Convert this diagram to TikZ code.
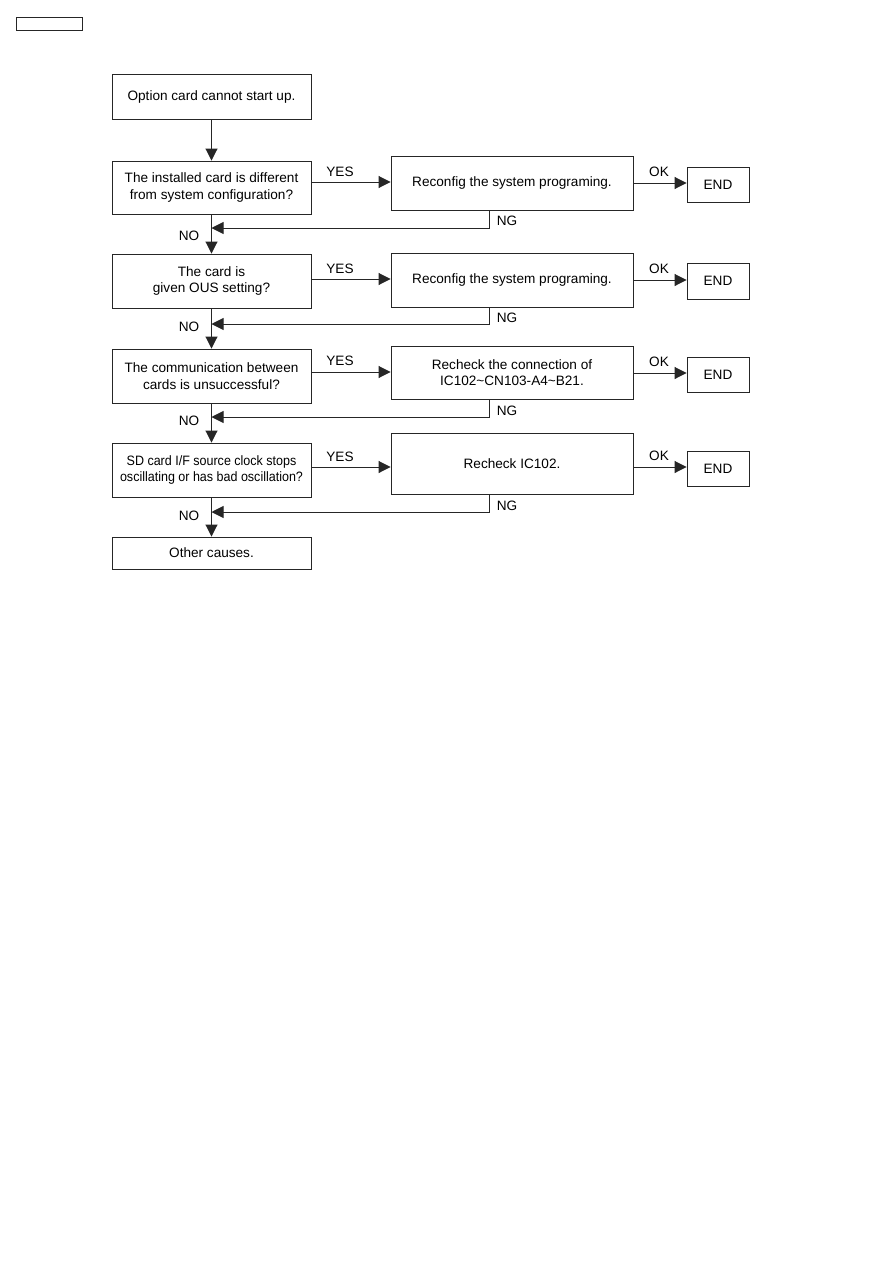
\documentclass[tikz,border=0pt]{standalone}
\usepackage{fontspec}
\setmainfont{Liberation Sans}
\newfontfamily\condfont[FakeStretch=0.92]{Liberation Sans}
\usetikzlibrary{arrows.meta}
\begin{document}
\begin{tikzpicture}[x=1pt,y=-1pt,
  every node/.style={font=\fontsize{13.6}{16.5}\selectfont},
  box/.style={draw=black!85,line width=0.9pt,inner sep=0pt,align=center,fill=white},
  lbl/.style={inner sep=0pt},
  arr/.style={draw=black!85,line width=0.9pt,-{Triangle[length=12pt,width=12pt]}},
  ln/.style={draw=black!85,line width=0.9pt}]
\useasboundingbox (0,0) rectangle (893,1263);
\fill[white] (0,0) rectangle (893,1263);
% top-left small box
\node[box,minimum width=66pt,minimum height=13pt] (tag) at (49,23.5) {};
% left column
\node[box,minimum width=199pt,minimum height=45pt] (b1) at (211.5,96.5) {Option card cannot start up.};
\node[box,minimum width=199pt,minimum height=53pt] (b2) at (211.5,187.5) {The installed card is different\\from system configuration?};
\node[box,minimum width=199pt,minimum height=54pt] (b3) at (211.5,281) {The card is\\given OUS setting?};
\node[box,minimum width=199pt,minimum height=54pt] (b4) at (211.5,376) {The communication between\\cards is unsuccessful?};
\node[box,minimum width=199pt,minimum height=54pt,font=\condfont\fontsize{13.6}{16.5}\selectfont] (b5) at (211.5,470) {SD card I/F source clock stops\\oscillating or has bad oscillation?};
\node[box,minimum width=199pt,minimum height=32pt] (b6) at (211.5,553) {Other causes.};
% middle column
\node[box,minimum width=242pt,minimum height=54pt] (r1) at (512,183) {Reconfig the system programing.};
\node[box,minimum width=242pt,minimum height=54pt] (r2) at (512,280) {Reconfig the system programing.};
\node[box,minimum width=242pt,minimum height=53pt] (r3) at (512,372.5) {Recheck the connection of\\IC102\textasciitilde CN103-A4\textasciitilde B21.};
\node[box,minimum width=242pt,minimum height=61pt] (r4) at (512,463.5) {Recheck IC102.};
% END boxes
\node[box,minimum width=62pt,minimum height=35pt] (e1) at (718,184.5) {END};
\node[box,minimum width=62pt,minimum height=36pt] (e2) at (718,281) {END};
\node[box,minimum width=62pt,minimum height=35pt] (e3) at (718,374.5) {END};
\node[box,minimum width=62pt,minimum height=35pt] (e4) at (718,468.5) {END};
% junction points on the vertical line
\coordinate (j1) at (211.5,228);
\coordinate (j2) at (211.5,324);
\coordinate (j3) at (211.5,417);
\coordinate (j4) at (211.5,512);
% vertical arrows
\draw[arr] (b1.south) -- (b2.north);
\draw[arr] (b2.south) -- (b3.north);
\draw[arr] (b3.south) -- (b4.north);
\draw[arr] (b4.south) -- (b5.north);
\draw[arr] (b5.south) -- (b6.north);
% YES arrows
\draw[arr] (b2.east |- 0,182) -- (r1.west |- 0,182);
\draw[arr] (b3.east |- 0,279) -- (r2.west |- 0,279);
\draw[arr] (b4.east |- 0,372) -- (r3.west |- 0,372);
\draw[arr] (b5.east |- 0,467) -- (r4.west |- 0,467);
% OK arrows
\draw[arr] (r1.east |- 0,183) -- (e1.west |- 0,183);
\draw[arr] (r2.east |- 0,280) -- (e2.west |- 0,280);
\draw[arr] (r3.east |- 0,373) -- (e3.west |- 0,373);
\draw[arr] (r4.east |- 0,467) -- (e4.west |- 0,467);
% NG returns
\draw[arr] (r1.south -| 489,0) |- (j1);
\draw[arr] (r2.south -| 489,0) |- (j2);
\draw[arr] (r3.south -| 489,0) |- (j3);
\draw[arr] (r4.south -| 489,0) |- (j4);
% labels
\node[lbl] (y1) at (340,172) {YES};
\node[lbl] (y2) at (340,269) {YES};
\node[lbl] (y3) at (340,361) {YES};
\node[lbl] (y4) at (340,457) {YES};
\node[lbl] (o1) at (659,172) {OK};
\node[lbl] (o2) at (659,269) {OK};
\node[lbl] (o3) at (659,362) {OK};
\node[lbl] (o4) at (659,456) {OK};
\node[lbl] (g1) at (507,221) {NG};
\node[lbl] (g2) at (507,318) {NG};
\node[lbl] (g3) at (507,411) {NG};
\node[lbl] (g4) at (507,506) {NG};
\node[lbl] (n1) at (189,236) {NO};
\node[lbl] (n2) at (189,327) {NO};
\node[lbl] (n3) at (189,421) {NO};
\node[lbl] (n4) at (189,516) {NO};
\end{tikzpicture}
\end{document}
